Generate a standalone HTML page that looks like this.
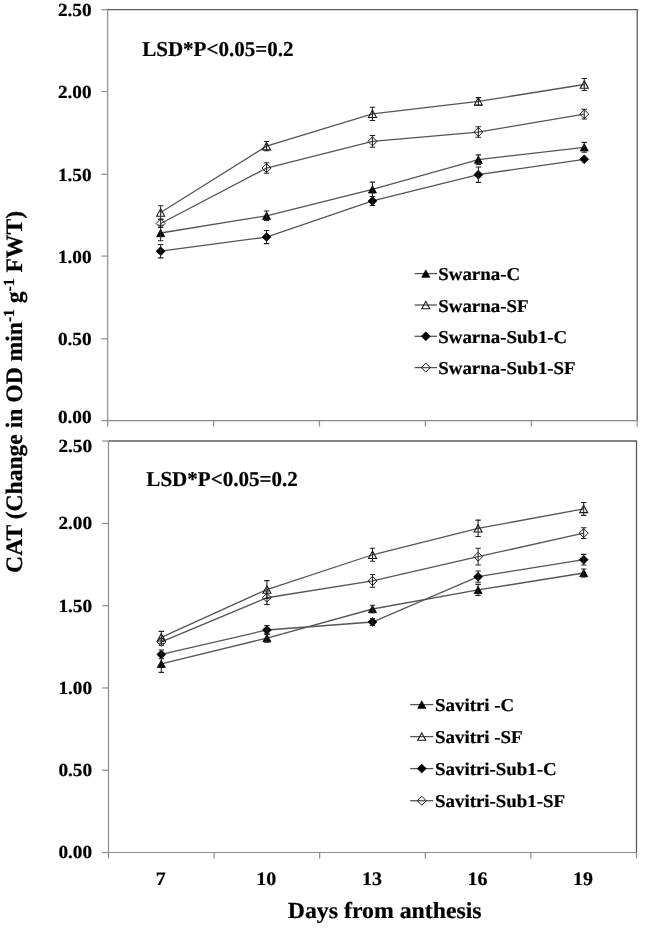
<!DOCTYPE html>
<html><head><meta charset="utf-8"><style>
html,body{margin:0;padding:0;background:#fff;}
body{width:645px;height:934px;overflow:hidden;}
svg{display:block;font-family:"Liberation Serif", serif;font-weight:bold;fill:#000;filter:blur(0.45px);}
text{fill:#000;stroke:#000;stroke-width:0.22px;text-rendering:geometricPrecision;}
</style></head><body>
<svg width="645" height="934" viewBox="0 0 645 934">
<rect width="645" height="934" fill="#fff"/>
<path d="M107.70,9.70 H637.20 V420.60" fill="none" stroke="#5a5a5a" stroke-width="1.3"/>
<path d="M107.70,9.70 V426.60" fill="none" stroke="#8c8c8c" stroke-width="1.2"/>
<path d="M107.70,420.60 H637.20" fill="none" stroke="#8c8c8c" stroke-width="1.2"/>
<path d="M101.40,420.60 H107.70" stroke="#8c8c8c" stroke-width="1.2"/>
<text transform="translate(91.60,423.40) scale(1.043,1)" font-size="18.45" text-anchor="end">0.00</text>
<path d="M101.40,338.86 H107.70" stroke="#8c8c8c" stroke-width="1.2"/>
<text transform="translate(91.60,345.20) scale(1.043,1)" font-size="18.45" text-anchor="end">0.50</text>
<path d="M101.40,256.10 H107.70" stroke="#8c8c8c" stroke-width="1.2"/>
<text transform="translate(91.60,262.50) scale(1.043,1)" font-size="18.45" text-anchor="end">1.00</text>
<path d="M101.40,174.33 H107.70" stroke="#8c8c8c" stroke-width="1.2"/>
<text transform="translate(91.60,180.50) scale(1.043,1)" font-size="18.45" text-anchor="end">1.50</text>
<path d="M101.40,91.49 H107.70" stroke="#8c8c8c" stroke-width="1.2"/>
<text transform="translate(91.60,97.60) scale(1.043,1)" font-size="18.45" text-anchor="end">2.00</text>
<path d="M101.40,9.70 H107.70" stroke="#8c8c8c" stroke-width="1.2"/>
<text transform="translate(91.60,15.90) scale(1.043,1)" font-size="18.45" text-anchor="end">2.50</text>
<path d="M213.60,420.60 V426.60" stroke="#8c8c8c" stroke-width="1.2"/>
<path d="M319.50,420.60 V426.60" stroke="#8c8c8c" stroke-width="1.2"/>
<path d="M425.40,420.60 V426.60" stroke="#8c8c8c" stroke-width="1.2"/>
<path d="M531.30,420.60 V426.60" stroke="#8c8c8c" stroke-width="1.2"/>
<path d="M637.20,420.60 V426.60" stroke="#8c8c8c" stroke-width="1.2"/>
<polyline points="160.65,233.01 266.55,215.77 372.45,189.33 478.35,159.61 584.25,147.30" fill="none" stroke="#555555" stroke-width="1.3"/>
<polyline points="160.65,212.49 266.55,146.15 372.45,113.80 478.35,101.41 584.25,84.49" fill="none" stroke="#555555" stroke-width="1.3"/>
<polyline points="160.65,251.14 266.55,237.05 372.45,200.99 478.35,174.64 584.25,159.35" fill="none" stroke="#555555" stroke-width="1.3"/>
<polyline points="160.65,223.49 266.55,168.05 372.45,141.39 478.35,132.03 584.25,114.13" fill="none" stroke="#555555" stroke-width="1.3"/>
<polygon points="160.65,229.31 164.65,236.71 156.65,236.71" fill="#000" stroke="#000" stroke-width="0.8"/>
<path d="M160.65,225.29 V240.73 M157.95,225.29 H163.35 M157.95,240.73 H163.35" stroke="#222" stroke-width="1.05" fill="none"/>
<polygon points="266.55,212.07 270.55,219.47 262.55,219.47" fill="#000" stroke="#000" stroke-width="0.8"/>
<path d="M266.55,211.01 V220.53 M263.85,211.01 H269.25 M263.85,220.53 H269.25" stroke="#222" stroke-width="1.05" fill="none"/>
<polygon points="372.45,185.63 376.45,193.03 368.45,193.03" fill="#000" stroke="#000" stroke-width="0.8"/>
<path d="M372.45,182.11 V196.56 M369.75,182.11 H375.15 M369.75,196.56 H375.15" stroke="#222" stroke-width="1.05" fill="none"/>
<polygon points="478.35,155.91 482.35,163.31 474.35,163.31" fill="#000" stroke="#000" stroke-width="0.8"/>
<path d="M478.35,154.85 V164.38 M475.65,154.85 H481.05 M475.65,164.38 H481.05" stroke="#222" stroke-width="1.05" fill="none"/>
<polygon points="584.25,143.60 588.25,151.00 580.25,151.00" fill="#000" stroke="#000" stroke-width="0.8"/>
<path d="M584.25,142.37 V152.23 M581.55,142.37 H586.95 M581.55,152.23 H586.95" stroke="#222" stroke-width="1.05" fill="none"/>
<polygon points="160.65,208.79 164.65,216.19 156.65,216.19" fill="none" stroke="#1a1a1a" stroke-width="1.1"/>
<path d="M160.65,205.75 V219.22 M157.95,205.75 H163.35 M157.95,219.22 H163.35" stroke="#222" stroke-width="1.05" fill="none"/>
<polygon points="266.55,142.45 270.55,149.85 262.55,149.85" fill="none" stroke="#1a1a1a" stroke-width="1.1"/>
<path d="M266.55,141.55 V150.75 M263.85,141.55 H269.25 M263.85,150.75 H269.25" stroke="#222" stroke-width="1.05" fill="none"/>
<polygon points="372.45,110.10 376.45,117.50 368.45,117.50" fill="none" stroke="#1a1a1a" stroke-width="1.1"/>
<path d="M372.45,107.15 V120.45 M369.75,107.15 H375.15 M369.75,120.45 H375.15" stroke="#222" stroke-width="1.05" fill="none"/>
<polygon points="478.35,97.71 482.35,105.11 474.35,105.11" fill="none" stroke="#1a1a1a" stroke-width="1.1"/>
<path d="M478.35,97.63 V105.18 M475.65,97.63 H481.05 M475.65,105.18 H481.05" stroke="#222" stroke-width="1.05" fill="none"/>
<polygon points="584.25,80.79 588.25,88.19 580.25,88.19" fill="none" stroke="#1a1a1a" stroke-width="1.1"/>
<path d="M584.25,78.42 V90.57 M581.55,78.42 H586.95 M581.55,90.57 H586.95" stroke="#222" stroke-width="1.05" fill="none"/>
<polygon points="160.65,246.64 165.15,251.14 160.65,255.64 156.15,251.14" fill="#000" stroke="#000" stroke-width="0.6"/>
<path d="M160.65,244.41 V257.87 M157.95,244.41 H163.35 M157.95,257.87 H163.35" stroke="#222" stroke-width="1.05" fill="none"/>
<polygon points="266.55,232.55 271.05,237.05 266.55,241.55 262.05,237.05" fill="#000" stroke="#000" stroke-width="0.6"/>
<path d="M266.55,230.48 V243.62 M263.85,230.48 H269.25 M263.85,243.62 H269.25" stroke="#222" stroke-width="1.05" fill="none"/>
<polygon points="372.45,196.49 376.95,200.99 372.45,205.49 367.95,200.99" fill="#000" stroke="#000" stroke-width="0.6"/>
<path d="M372.45,196.40 V205.59 M369.75,196.40 H375.15 M369.75,205.59 H375.15" stroke="#222" stroke-width="1.05" fill="none"/>
<polygon points="478.35,170.14 482.85,174.64 478.35,179.14 473.85,174.64" fill="#000" stroke="#000" stroke-width="0.6"/>
<path d="M478.35,166.92 V182.36 M475.65,166.92 H481.05 M475.65,182.36 H481.05" stroke="#222" stroke-width="1.05" fill="none"/>
<polygon points="584.25,154.85 588.75,159.35 584.25,163.85 579.75,159.35" fill="#000" stroke="#000" stroke-width="0.6"/>
<polygon points="160.65,218.99 165.15,223.49 160.65,227.99 156.15,223.49" fill="none" stroke="#1a1a1a" stroke-width="1.0"/>
<path d="M160.65,219.38 V227.59 M157.95,219.38 H163.35 M157.95,227.59 H163.35" stroke="#222" stroke-width="1.05" fill="none"/>
<polygon points="266.55,163.55 271.05,168.05 266.55,172.55 262.05,168.05" fill="none" stroke="#1a1a1a" stroke-width="1.0"/>
<path d="M266.55,162.80 V173.31 M263.85,162.80 H269.25 M263.85,173.31 H269.25" stroke="#222" stroke-width="1.05" fill="none"/>
<polygon points="372.45,136.89 376.95,141.39 372.45,145.89 367.95,141.39" fill="none" stroke="#1a1a1a" stroke-width="1.0"/>
<path d="M372.45,135.48 V147.30 M369.75,135.48 H375.15 M369.75,147.30 H375.15" stroke="#222" stroke-width="1.05" fill="none"/>
<polygon points="478.35,127.53 482.85,132.03 478.35,136.53 473.85,132.03" fill="none" stroke="#1a1a1a" stroke-width="1.0"/>
<path d="M478.35,126.77 V137.28 M475.65,126.77 H481.05 M475.65,137.28 H481.05" stroke="#222" stroke-width="1.05" fill="none"/>
<polygon points="584.25,109.63 588.75,114.13 584.25,118.63 579.75,114.13" fill="none" stroke="#1a1a1a" stroke-width="1.0"/>
<path d="M584.25,109.21 V119.06 M581.55,109.21 H586.95 M581.55,119.06 H586.95" stroke="#222" stroke-width="1.05" fill="none"/>
<path d="M414.60,273.60 H437.00" stroke="#555555" stroke-width="1.3"/>
<polygon points="425.80,269.90 429.80,277.30 421.80,277.30" fill="#000" stroke="#000" stroke-width="0.8"/>
<text transform="translate(438.30,280.30) scale(1.048,1)" font-size="18.0">Swarna-C</text>
<path d="M414.60,305.00 H437.00" stroke="#555555" stroke-width="1.3"/>
<polygon points="425.80,301.30 429.80,308.70 421.80,308.70" fill="none" stroke="#1a1a1a" stroke-width="1.1"/>
<text transform="translate(438.30,311.70) scale(1.048,1)" font-size="18.0">Swarna-SF</text>
<path d="M414.60,336.30 H437.00" stroke="#555555" stroke-width="1.3"/>
<polygon points="425.80,331.80 430.30,336.30 425.80,340.80 421.30,336.30" fill="#000" stroke="#000" stroke-width="0.6"/>
<text transform="translate(438.30,343.00) scale(1.048,1)" font-size="18.0">Swarna-Sub1-C</text>
<path d="M414.60,367.60 H437.00" stroke="#555555" stroke-width="1.3"/>
<polygon points="425.80,363.10 430.30,367.60 425.80,372.10 421.30,367.60" fill="none" stroke="#1a1a1a" stroke-width="1.0"/>
<text transform="translate(438.30,374.30) scale(1.048,1)" font-size="18.0">Swarna-Sub1-SF</text>
<text transform="translate(142.15,55.90) scale(0.993,1)" font-size="21.2">LSD*P&lt;0.05=0.2</text>
<path d="M108.50,441.00 H636.50 V852.50" fill="none" stroke="#5a5a5a" stroke-width="1.3"/>
<path d="M108.50,441.00 V858.50" fill="none" stroke="#8c8c8c" stroke-width="1.2"/>
<path d="M108.50,852.50 H636.50" fill="none" stroke="#8c8c8c" stroke-width="1.2"/>
<path d="M102.20,852.50 H108.50" stroke="#8c8c8c" stroke-width="1.2"/>
<text transform="translate(92.10,857.90) scale(1.043,1)" font-size="18.45" text-anchor="end">0.00</text>
<path d="M102.20,770.20 H108.50" stroke="#8c8c8c" stroke-width="1.2"/>
<text transform="translate(92.10,776.20) scale(1.043,1)" font-size="18.45" text-anchor="end">0.50</text>
<path d="M102.20,687.95 H108.50" stroke="#8c8c8c" stroke-width="1.2"/>
<text transform="translate(92.10,693.60) scale(1.043,1)" font-size="18.45" text-anchor="end">1.00</text>
<path d="M102.20,605.70 H108.50" stroke="#8c8c8c" stroke-width="1.2"/>
<text transform="translate(92.10,611.60) scale(1.043,1)" font-size="18.45" text-anchor="end">1.50</text>
<path d="M102.20,523.49 H108.50" stroke="#8c8c8c" stroke-width="1.2"/>
<text transform="translate(92.10,529.10) scale(1.043,1)" font-size="18.45" text-anchor="end">2.00</text>
<path d="M102.20,441.00 H108.50" stroke="#8c8c8c" stroke-width="1.2"/>
<text transform="translate(92.10,451.70) scale(1.043,1)" font-size="18.45" text-anchor="end">2.50</text>
<path d="M214.10,852.50 V858.50" stroke="#8c8c8c" stroke-width="1.2"/>
<path d="M319.70,852.50 V858.50" stroke="#8c8c8c" stroke-width="1.2"/>
<path d="M425.30,852.50 V858.50" stroke="#8c8c8c" stroke-width="1.2"/>
<path d="M530.90,852.50 V858.50" stroke="#8c8c8c" stroke-width="1.2"/>
<path d="M636.50,852.50 V858.50" stroke="#8c8c8c" stroke-width="1.2"/>
<text transform="translate(160.70,885.20) scale(1.045,1)" font-size="19.1" text-anchor="middle">7</text>
<text transform="translate(266.30,885.20) scale(1.045,1)" font-size="19.1" text-anchor="middle">10</text>
<text transform="translate(371.90,885.20) scale(1.045,1)" font-size="19.1" text-anchor="middle">13</text>
<text transform="translate(477.50,885.20) scale(1.045,1)" font-size="19.1" text-anchor="middle">16</text>
<text transform="translate(583.10,885.20) scale(1.045,1)" font-size="19.1" text-anchor="middle">19</text>
<polyline points="161.30,663.80 266.90,638.05 372.50,609.00 478.10,589.95 583.70,573.00" fill="none" stroke="#555555" stroke-width="1.3"/>
<polyline points="161.30,637.31 266.90,589.53 372.50,554.75 478.10,528.34 583.70,508.95" fill="none" stroke="#555555" stroke-width="1.3"/>
<polyline points="161.30,654.40 266.90,629.99 372.50,621.99 478.10,576.65 583.70,559.66" fill="none" stroke="#555555" stroke-width="1.3"/>
<polyline points="161.30,641.90 266.90,597.75 372.50,580.91 478.10,556.70 583.70,533.11" fill="none" stroke="#555555" stroke-width="1.3"/>
<polygon points="161.30,660.10 165.30,667.50 157.30,667.50" fill="#000" stroke="#000" stroke-width="0.8"/>
<path d="M161.30,655.25 V672.36 M158.60,655.25 H164.00 M158.60,672.36 H164.00" stroke="#222" stroke-width="1.05" fill="none"/>
<polygon points="266.90,634.35 270.90,641.75 262.90,641.75" fill="#000" stroke="#000" stroke-width="0.8"/>
<path d="M266.90,633.77 V642.32 M264.20,633.77 H269.60 M264.20,642.32 H269.60" stroke="#222" stroke-width="1.05" fill="none"/>
<polygon points="372.50,605.30 376.50,612.70 368.50,612.70" fill="#000" stroke="#000" stroke-width="0.8"/>
<path d="M372.50,605.30 V612.70 M369.80,605.30 H375.20 M369.80,612.70 H375.20" stroke="#222" stroke-width="1.05" fill="none"/>
<polygon points="478.10,586.25 482.10,593.65 474.10,593.65" fill="#000" stroke="#000" stroke-width="0.8"/>
<path d="M478.10,584.36 V595.55 M475.40,584.36 H480.80 M475.40,595.55 H480.80" stroke="#222" stroke-width="1.05" fill="none"/>
<polygon points="583.70,569.30 587.70,576.70 579.70,576.70" fill="#000" stroke="#000" stroke-width="0.8"/>
<path d="M583.70,569.05 V576.94 M581.00,569.05 H586.40 M581.00,576.94 H586.40" stroke="#222" stroke-width="1.05" fill="none"/>
<polygon points="161.30,633.61 165.30,641.01 157.30,641.01" fill="none" stroke="#1a1a1a" stroke-width="1.1"/>
<path d="M161.30,631.39 V643.23 M158.60,631.39 H164.00 M158.60,643.23 H164.00" stroke="#222" stroke-width="1.05" fill="none"/>
<polygon points="266.90,585.83 270.90,593.23 262.90,593.23" fill="none" stroke="#1a1a1a" stroke-width="1.1"/>
<path d="M266.90,580.64 V598.41 M264.20,580.64 H269.60 M264.20,598.41 H269.60" stroke="#222" stroke-width="1.05" fill="none"/>
<polygon points="372.50,551.05 376.50,558.45 368.50,558.45" fill="none" stroke="#1a1a1a" stroke-width="1.1"/>
<path d="M372.50,548.18 V561.33 M369.80,548.18 H375.20 M369.80,561.33 H375.20" stroke="#222" stroke-width="1.05" fill="none"/>
<polygon points="478.10,524.64 482.10,532.04 474.10,532.04" fill="none" stroke="#1a1a1a" stroke-width="1.1"/>
<path d="M478.10,520.11 V536.56 M475.40,520.11 H480.80 M475.40,536.56 H480.80" stroke="#222" stroke-width="1.05" fill="none"/>
<polygon points="583.70,505.25 587.70,512.65 579.70,512.65" fill="none" stroke="#1a1a1a" stroke-width="1.1"/>
<path d="M583.70,502.53 V515.36 M581.00,502.53 H586.40 M581.00,515.36 H586.40" stroke="#222" stroke-width="1.05" fill="none"/>
<polygon points="161.30,649.90 165.80,654.40 161.30,658.90 156.80,654.40" fill="#000" stroke="#000" stroke-width="0.6"/>
<path d="M161.30,649.96 V658.84 M158.60,649.96 H164.00 M158.60,658.84 H164.00" stroke="#222" stroke-width="1.05" fill="none"/>
<polygon points="266.90,625.49 271.40,629.99 266.90,634.49 262.40,629.99" fill="#000" stroke="#000" stroke-width="0.6"/>
<path d="M266.90,625.55 V634.43 M264.20,625.55 H269.60 M264.20,634.43 H269.60" stroke="#222" stroke-width="1.05" fill="none"/>
<polygon points="372.50,617.49 377.00,621.99 372.50,626.49 368.00,621.99" fill="#000" stroke="#000" stroke-width="0.6"/>
<path d="M372.50,618.54 V625.45 M369.80,618.54 H375.20 M369.80,625.45 H375.20" stroke="#222" stroke-width="1.05" fill="none"/>
<polygon points="478.10,572.15 482.60,576.65 478.10,581.15 473.60,576.65" fill="#000" stroke="#000" stroke-width="0.6"/>
<path d="M478.10,571.05 V582.24 M475.40,571.05 H480.80 M475.40,582.24 H480.80" stroke="#222" stroke-width="1.05" fill="none"/>
<polygon points="583.70,555.16 588.20,559.66 583.70,564.16 579.20,559.66" fill="#000" stroke="#000" stroke-width="0.6"/>
<path d="M583.70,554.39 V564.92 M581.00,554.39 H586.40 M581.00,564.92 H586.40" stroke="#222" stroke-width="1.05" fill="none"/>
<polygon points="161.30,637.40 165.80,641.90 161.30,646.40 156.80,641.90" fill="none" stroke="#1a1a1a" stroke-width="1.0"/>
<path d="M161.30,638.61 V645.19 M158.60,638.61 H164.00 M158.60,645.19 H164.00" stroke="#222" stroke-width="1.05" fill="none"/>
<polygon points="266.90,593.25 271.40,597.75 266.90,602.25 262.40,597.75" fill="none" stroke="#1a1a1a" stroke-width="1.0"/>
<path d="M266.90,591.01 V604.49 M264.20,591.01 H269.60 M264.20,604.49 H269.60" stroke="#222" stroke-width="1.05" fill="none"/>
<polygon points="372.50,576.41 377.00,580.91 372.50,585.41 368.00,580.91" fill="none" stroke="#1a1a1a" stroke-width="1.0"/>
<path d="M372.50,574.49 V587.32 M369.80,574.49 H375.20 M369.80,587.32 H375.20" stroke="#222" stroke-width="1.05" fill="none"/>
<polygon points="478.10,552.20 482.60,556.70 478.10,561.20 473.60,556.70" fill="none" stroke="#1a1a1a" stroke-width="1.0"/>
<path d="M478.10,548.31 V565.08 M475.40,548.31 H480.80 M475.40,565.08 H480.80" stroke="#222" stroke-width="1.05" fill="none"/>
<polygon points="583.70,528.61 588.20,533.11 583.70,537.61 579.20,533.11" fill="none" stroke="#1a1a1a" stroke-width="1.0"/>
<path d="M583.70,527.68 V538.54 M581.00,527.68 H586.40 M581.00,538.54 H586.40" stroke="#222" stroke-width="1.05" fill="none"/>
<path d="M410.20,704.60 H433.30" stroke="#555555" stroke-width="1.3"/>
<polygon points="421.75,700.90 425.75,708.30 417.75,708.30" fill="#000" stroke="#000" stroke-width="0.8"/>
<text transform="translate(435.10,711.30) scale(1.048,1)" font-size="18.0">Savitri -C</text>
<path d="M410.20,736.60 H433.30" stroke="#555555" stroke-width="1.3"/>
<polygon points="421.75,732.90 425.75,740.30 417.75,740.30" fill="none" stroke="#1a1a1a" stroke-width="1.1"/>
<text transform="translate(435.10,743.30) scale(1.048,1)" font-size="18.0">Savitri -SF</text>
<path d="M410.20,768.60 H433.30" stroke="#555555" stroke-width="1.3"/>
<polygon points="421.75,764.10 426.25,768.60 421.75,773.10 417.25,768.60" fill="#000" stroke="#000" stroke-width="0.6"/>
<text transform="translate(435.10,775.30) scale(1.048,1)" font-size="18.0">Savitri-Sub1-C</text>
<path d="M410.20,800.70 H433.30" stroke="#555555" stroke-width="1.3"/>
<polygon points="421.75,796.20 426.25,800.70 421.75,805.20 417.25,800.70" fill="none" stroke="#1a1a1a" stroke-width="1.0"/>
<text transform="translate(435.10,807.40) scale(1.048,1)" font-size="18.0">Savitri-Sub1-SF</text>
<text transform="translate(146.35,486.00) scale(0.993,1)" font-size="21.2">LSD*P&lt;0.05=0.2</text>
<text transform="translate(287.80,918.40) scale(1.034,1)" font-size="23.0">Days from anthesis</text>
<text transform="translate(22.3,572.9) rotate(-90)" font-size="23.6">CAT (Change in OD min<tspan font-size="15.5" dy="-8">-1</tspan><tspan dy="8"> g</tspan><tspan font-size="15.5" dy="-8">-1</tspan><tspan dy="8"> FWT)</tspan></text>
</svg>
</body></html>
